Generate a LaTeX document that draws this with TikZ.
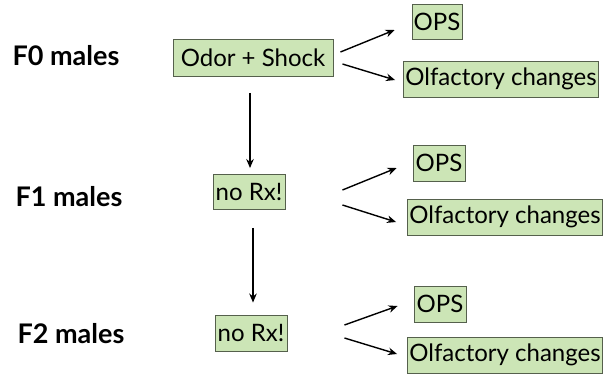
\documentclass[tikz,border=0pt]{standalone}
\usepackage{fontspec}
\setmainfont{Lato}
\usetikzlibrary{arrows.meta}
\definecolor{boxfill}{HTML}{CCE5B6}
\definecolor{boxline}{HTML}{55604C}
\tikzset{
  greenbox/.style={draw=boxline, fill=boxfill, line width=0.9pt, inner sep=0pt,
    font=\fontsize{24}{27}\selectfont, anchor=center},
  genlabel/.style={font=\fontsize{27}{30}\selectfont\bfseries, anchor=center},
  flow/.style={line width=1.4pt, -{Stealth[length=9pt,width=7.5pt]}}
}
\begin{document}
\begin{tikzpicture}[x=1pt,y=-1pt]
  \useasboundingbox (0,0) rectangle (607,375);

  % generation labels
  \node[genlabel] (f0) at (66,56) {F0 males};
  \node[genlabel] (f1) at (69,197) {F1 males};
  \node[genlabel] (f2) at (71,334) {F2 males};

  % treatment boxes
  \node[greenbox, minimum width=160, minimum height=37] (odor) at (253,58) {Odor + Shock};
  \node[greenbox, minimum width=72, minimum height=35] (nrx1) at (249,192) {no Rx!};
  \node[greenbox, minimum width=72, minimum height=36] (nrx2) at (251,333) {no Rx!};

  % outcome boxes
  \node[greenbox, minimum width=50, minimum height=35] (ops1) at (437,22) {OPS};
  \node[greenbox, minimum width=195, minimum height=36] (olf1) at (501,79) {Olfactory changes};
  \node[greenbox, minimum width=52, minimum height=36] (ops2) at (439,163) {OPS};
  \node[greenbox, minimum width=195, minimum height=36] (olf2) at (505,217) {Olfactory changes};
  \node[greenbox, minimum width=52, minimum height=36] (ops3) at (440,304) {OPS};
  \node[greenbox, minimum width=195, minimum height=36] (olf3) at (505,355) {Olfactory changes};

  % generation-to-generation arrows
  \draw[flow] ([xshift=-3,yshift=-16]odor.south) -- ([xshift=1,yshift=6]nrx1.north);
  \draw[flow] ([xshift=4,yshift=-18]nrx1.south) -- ([xshift=2,yshift=12]nrx2.north);

  % outcome arrows
  \draw[flow] ([xshift=7,yshift=6]odor.east) -- ([xshift=-17,yshift=-8]ops1.west);
  \draw[flow] ([xshift=9,yshift=-6]odor.east) -- ([xshift=-8,yshift=-1]olf1.west);
  \draw[flow] ([xshift=57,yshift=2]nrx1.east) -- ([xshift=-16,yshift=-5]ops2.west);
  \draw[flow] ([xshift=57,yshift=-13]nrx1.east) -- ([xshift=-11,yshift=-5]olf2.west);
  \draw[flow] ([xshift=57,yshift=8]nrx2.east) -- ([xshift=-16,yshift=-2]ops3.west);
  \draw[flow] ([xshift=57,yshift=-5]nrx2.east) -- ([xshift=-10,yshift=1]olf3.west);
\end{tikzpicture}
\end{document}
